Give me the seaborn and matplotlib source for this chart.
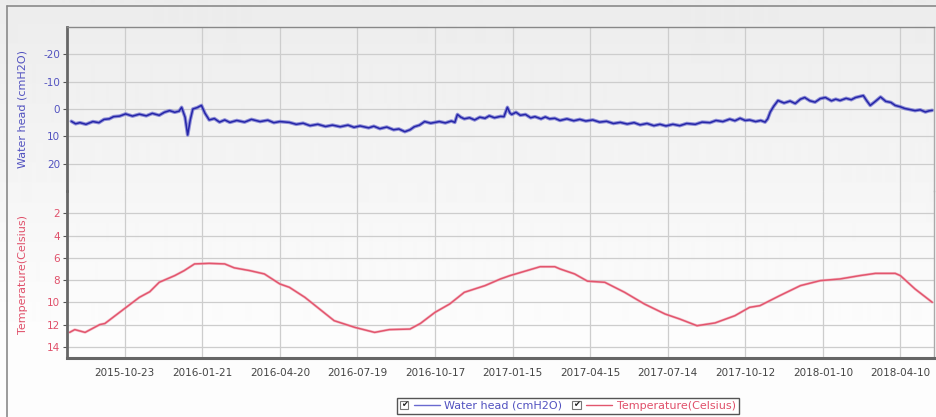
import matplotlib
matplotlib.use("Agg")
import matplotlib.pyplot as plt
import matplotlib.patheffects as pe
import seaborn as sns
import numpy as np
import pandas as pd
from matplotlib.legend_handler import HandlerBase
from matplotlib.lines import Line2D
from matplotlib.patches import Rectangle
from matplotlib.text import Text

# ---------------- data ----------------
wh_dates = [
    "2015-08-22", "2015-08-27", "2015-09-01", "2015-09-08", "2015-09-16", "2015-09-23",
    "2015-09-29", "2015-10-05", "2015-10-10", "2015-10-17", "2015-10-24", "2015-11-01",
    "2015-11-09", "2015-11-17", "2015-11-24", "2015-12-02", "2015-12-08", "2015-12-14",
    "2015-12-20", "2015-12-25", "2015-12-28", "2016-01-01", "2016-01-04", "2016-01-07",
    "2016-01-10", "2016-01-15", "2016-01-20", "2016-01-24", "2016-01-29", "2016-02-04",
    "2016-02-10", "2016-02-16", "2016-02-22", "2016-03-01", "2016-03-10", "2016-03-18",
    "2016-03-28", "2016-04-06", "2016-04-13", "2016-04-20", "2016-05-01", "2016-05-09",
    "2016-05-17", "2016-05-25", "2016-06-03", "2016-06-12", "2016-06-20", "2016-06-29",
    "2016-07-08", "2016-07-15", "2016-07-22", "2016-08-01", "2016-08-07", "2016-08-14",
    "2016-08-22", "2016-08-30", "2016-09-05", "2016-09-12", "2016-09-18", "2016-09-23",
    "2016-09-29", "2016-10-05", "2016-10-12", "2016-10-22", "2016-10-29", "2016-11-05",
    "2016-11-09", "2016-11-12", "2016-11-16", "2016-11-20", "2016-11-26", "2016-12-02",
    "2016-12-08", "2016-12-14", "2016-12-19", "2016-12-25", "2017-01-01", "2017-01-05",
    "2017-01-09", "2017-01-12", "2017-01-14", "2017-01-19", "2017-01-24", "2017-01-30",
    "2017-02-05", "2017-02-10", "2017-02-17", "2017-02-22", "2017-02-27", "2017-03-05",
    "2017-03-11", "2017-03-19", "2017-03-27", "2017-04-03", "2017-04-10", "2017-04-18",
    "2017-04-26", "2017-05-04", "2017-05-12", "2017-05-20", "2017-05-28", "2017-06-05",
    "2017-06-12", "2017-06-20", "2017-06-28", "2017-07-05", "2017-07-12", "2017-07-20",
    "2017-07-28", "2017-08-05", "2017-08-15", "2017-08-23", "2017-09-01", "2017-09-08",
    "2017-09-16", "2017-09-24", "2017-09-30", "2017-10-06", "2017-10-12", "2017-10-17",
    "2017-10-24", "2017-10-30", "2017-11-04", "2017-11-07", "2017-11-10", "2017-11-14",
    "2017-11-19", "2017-11-26", "2017-12-03", "2017-12-09", "2017-12-15", "2017-12-20",
    "2017-12-26", "2018-01-01", "2018-01-07", "2018-01-13", "2018-01-20", "2018-01-25",
    "2018-01-30", "2018-02-06", "2018-02-12", "2018-02-17", "2018-02-26", "2018-03-02",
    "2018-03-06", "2018-03-12", "2018-03-18", "2018-03-24", "2018-03-30", "2018-04-04",
    "2018-04-10", "2018-04-15", "2018-04-21", "2018-04-27", "2018-05-03", "2018-05-09",
    "2018-05-13", "2018-05-17",
]
wh_values = [
    4.5, 5.4, 5.0, 5.6, 4.6, 5.0,
    3.8, 3.6, 2.8, 2.6, 1.8, 2.6,
    1.9, 2.5, 1.6, 2.3, 1.2, 0.6,
    1.2, 0.8, -0.6, 3.0, 9.5, 4.0,
    0.0, -0.5, -1.3, 1.5, 4.0, 3.5,
    4.8, 4.0, 4.9, 4.2, 4.8, 3.8,
    4.6, 4.1, 5.0, 4.6, 4.9, 5.6,
    5.2, 6.1, 5.6, 6.4, 5.9, 6.5,
    5.9, 6.7, 6.2, 6.9, 6.3, 7.2,
    6.6, 7.6, 7.3, 8.3, 7.6, 6.5,
    5.9, 4.6, 5.2, 4.6, 5.1, 4.4,
    4.9, 2.0, 3.0, 3.6, 3.2, 4.0,
    3.0, 3.4, 2.5, 3.2, 2.7, 2.8,
    -0.6, 1.5, 2.0, 1.2, 2.3, 2.0,
    3.2, 2.8, 3.6, 2.9, 3.6, 3.4,
    4.2, 3.6, 4.3, 3.8, 4.4, 4.0,
    4.8, 4.5, 5.3, 4.9, 5.5, 5.0,
    5.8, 5.3, 6.1, 5.6, 6.2, 5.6,
    6.1, 5.3, 5.6, 4.8, 5.0, 4.2,
    4.6, 3.7, 4.3, 3.4, 4.2, 4.0,
    4.6, 4.2, 4.8, 3.6, 1.1, -1.0,
    -3.1, -2.2, -2.9, -2.0, -3.6, -4.2,
    -3.0, -2.5, -3.8, -4.2, -3.0, -3.6,
    -3.1, -3.9, -3.4, -4.2, -4.9, -3.0,
    -1.3, -2.8, -4.4, -2.8, -2.4, -1.3,
    -0.8, -0.2, 0.2, 0.6, 0.3, 1.1,
    0.7, 0.5,
]

temp_dates = [
    "2015-08-20", "2015-08-26", "2015-09-07", "2015-09-24", "2015-09-30", "2015-10-17",
    "2015-11-09", "2015-11-21", "2015-12-02", "2015-12-20", "2015-12-31", "2016-01-12",
    "2016-01-29", "2016-02-16", "2016-02-27", "2016-03-16", "2016-04-02", "2016-04-20",
    "2016-05-01", "2016-05-19", "2016-06-05", "2016-06-22", "2016-07-16", "2016-08-08",
    "2016-08-25", "2016-09-18", "2016-09-30", "2016-10-17", "2016-11-03", "2016-11-20",
    "2016-12-14", "2017-01-01", "2017-01-12", "2017-02-16", "2017-03-05", "2017-03-11",
    "2017-03-28", "2017-04-12", "2017-05-02", "2017-05-25", "2017-06-17", "2017-07-11",
    "2017-07-28", "2017-08-17", "2017-09-07", "2017-09-30", "2017-10-17", "2017-10-29",
    "2017-11-21", "2017-12-15", "2018-01-07", "2018-01-30", "2018-02-22", "2018-03-12",
    "2018-04-04", "2018-04-10", "2018-04-27", "2018-05-17",
]
temp_values = [
    12.7, 12.45, 12.7, 12.0, 11.9, 10.9,
    9.55, 9.05, 8.2, 7.6, 7.15, 6.55,
    6.5, 6.55, 6.9, 7.15, 7.45, 8.35,
    8.65, 9.55, 10.6, 11.65, 12.25, 12.7,
    12.45, 12.4, 11.9, 10.9, 10.15, 9.1,
    8.5, 7.9, 7.6, 6.8, 6.8, 7.0,
    7.45, 8.1, 8.2, 9.1, 10.15, 11.05,
    11.5, 12.1, 11.85, 11.2, 10.45, 10.3,
    9.4, 8.5, 8.05, 7.9, 7.6, 7.4,
    7.4, 7.6, 8.8, 10.0,
]

x_tick_labels = [
    "2015-10-23", "2016-01-21", "2016-04-20", "2016-07-19", "2016-10-17", "2017-01-15",
    "2017-04-15", "2017-07-14", "2017-10-12", "2018-01-10", "2018-04-10",
]
wh_ticks = [-20, -10, 0, 10, 20]
temp_ticks = [2, 4, 6, 8, 10, 12, 14]
wh_label = "Water head (cmH2O)"
temp_label = "Temperature(Celsius)"

# ---------------- style ----------------
sns.set_theme(style="white")
plt.rcParams["font.family"] = ["DejaVu Sans"]
plt.rcParams["axes.unicode_minus"] = False

BLUE = "#2626a8"
BLUE_TXT = "#5252c0"
RED = "#e2566e"
RED_TXT = "#e0506a"
GRID = "#cdcdcd"

W, H = 937, 417
fig = plt.figure(figsize=(W / 100, H / 100), dpi=100)

# background gradient
bg = fig.add_axes([0, 0, 1, 1], zorder=-10)
rows = np.clip(np.arange(H) / 330.0, 0, 1)
shade = 0.925 + (0.99 - 0.925) * rows
bg.imshow(shade[:, None], aspect="auto", cmap="gray", vmin=0, vmax=1,
          extent=[0, 1, 0, 1], interpolation="bilinear")
bg.set_axis_off()

# outer frame (left + top)
fig.add_artist(Line2D([7 / W, 7 / W], [0, 1 - 6 / H], transform=fig.transFigure,
                      color="#8a8a8a", lw=1.2))
fig.add_artist(Line2D([7 / W, 1], [1 - 6 / H, 1 - 6 / H], transform=fig.transFigure,
                      color="#8a8a8a", lw=1.2))

L = 67 / W
R = 934 / W
ax1 = fig.add_axes([L, 1 - 191 / H, R - L, (191 - 27) / H])
ax2 = fig.add_axes([L, 1 - 358 / H, R - L, (358 - 191) / H], sharex=ax1)
for ax in (ax1, ax2):
    ax.set_facecolor("none")

wh_x = pd.to_datetime(wh_dates)
t_x = pd.to_datetime(temp_dates)

sns.lineplot(x=wh_x, y=wh_values, ax=ax1, color=BLUE, lw=1.1,
             path_effects=[pe.Stroke(linewidth=2.6, foreground="#7070d0", alpha=0.75), pe.Normal()])
sns.lineplot(x=t_x, y=temp_values, ax=ax2, color=RED, lw=1.1,
             path_effects=[pe.Stroke(linewidth=2.0, foreground="#f2a0b0", alpha=0.6), pe.Normal()])

ax1.set_ylim(30, -30)
ax2.set_ylim(15, 0)
ax2.set_xlim(pd.Timestamp("2015-08-17"), pd.Timestamp("2018-05-19"))

tick_pos = pd.to_datetime(x_tick_labels)
ax2.set_xticks(tick_pos)
ax2.set_xticklabels(x_tick_labels)
ax1.set_yticks(wh_ticks)
ax1.set_yticklabels([str(v) for v in wh_ticks])
ax2.set_yticks(temp_ticks)
ax2.set_yticklabels([str(v) for v in temp_ticks])

for ax in (ax1, ax2):
    ax.grid(True, color=GRID, lw=0.9)
    ax.set_axisbelow(True)
    ax.tick_params(axis="y", direction="out", length=3, width=0.8, color="#555555",
                   labelsize=7.5, pad=2, left=True)
    ax.tick_params(axis="x", length=0, labelsize=7.5, pad=7, labelcolor="#444444")
ax1.tick_params(axis="x", labelbottom=False)
ax1.tick_params(axis="y", labelcolor=BLUE_TXT)
ax2.tick_params(axis="y", labelcolor=RED_TXT)

ax1.set_xlabel("")
ax2.set_xlabel("")
ax1.set_ylabel(wh_label, color=BLUE_TXT, fontsize=8)
ax2.set_ylabel(temp_label, color=RED_TXT, fontsize=8)
lab_x = -(67 - 28) / (R * W - 67)
ax1.yaxis.set_label_coords(lab_x, 0.5)
ax2.yaxis.set_label_coords(lab_x, 0.5)

for sp in ax1.spines.values():
    sp.set_visible(True)
ax1.spines["bottom"].set_visible(False)
ax1.spines["left"].set(color="#666666", lw=2)
ax1.spines["top"].set(color="#888888", lw=1)
ax1.spines["right"].set(color="#aaaaaa", lw=1)
for sp in ax2.spines.values():
    sp.set_visible(True)
ax2.spines["top"].set_visible(False)
ax2.spines["left"].set(color="#666666", lw=2)
ax2.spines["bottom"].set(color="#666666", lw=2.2)
ax2.spines["right"].set(color="#aaaaaa", lw=1)


# legend with checkbox handles
class CheckLineHandler(HandlerBase):
    def create_artists(self, legend, orig_handle, xdescent, ydescent, width, height,
                       fontsize, trans):
        s = height * 0.9
        y0 = -ydescent + (height - s) / 2
        x0 = -xdescent
        box = Rectangle((x0, y0), s, s, facecolor="white", edgecolor="#777777",
                        lw=0.8, transform=trans)
        chk = Text(x0 + s / 2, y0 + s / 2, "\u2714", ha="center", va="center",
                   fontsize=fontsize * 0.75, color="#222222", transform=trans)
        x1 = x0 + s + 0.5 * fontsize
        line = Line2D([x1, x0 + width], [y0 + s / 2] * 2, color=orig_handle.get_color(),
                      lw=1.0, transform=trans)
        return [box, chk, line]


h1 = Line2D([], [], color="#6a6ad0")
h2 = Line2D([], [], color=RED)
leg = fig.legend([h1, h2], [wh_label, temp_label], ncol=2,
                 loc="center", bbox_to_anchor=(568 / W, 1 - 405.5 / H),
                 handler_map={Line2D: CheckLineHandler()},
                 fontsize=8, frameon=True, fancybox=False, edgecolor="#555555",
                 facecolor="white", framealpha=1, borderpad=0.25, handlelength=3.6,
                 handletextpad=0.4, columnspacing=0.9, handleheight=0.9)
leg.get_frame().set_linewidth(1.0)
leg.get_texts()[0].set_color(BLUE_TXT)
leg.get_texts()[1].set_color(RED_TXT)

fig.savefig("out.png", dpi=100)
